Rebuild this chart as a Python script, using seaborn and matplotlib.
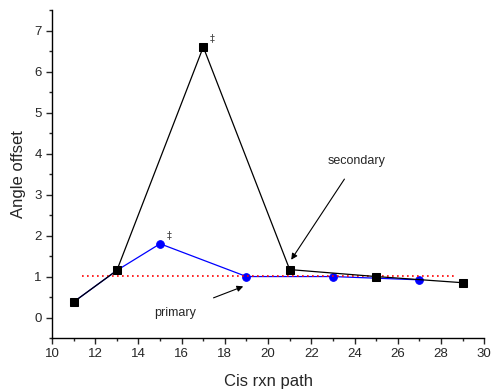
import pandas as pd
import seaborn as sns
import matplotlib.pyplot as plt
from matplotlib.ticker import MultipleLocator

# data
sec_x = [11, 13, 17, 21, 25, 29]
sec_y = [0.38, 1.15, 6.6, 1.17, 1.0, 0.85]
pri_x = [11, 13, 15, 19, 23, 27]
pri_y = [0.38, 1.15, 1.8, 1.0, 1.0, 0.92]
ref_x = [11.4, 28.6]
ref_y = [1.02, 1.02]

sns.set_style("ticks")
plt.rcParams['font.family'] = ['Liberation Sans', 'DejaVu Sans']

fig = plt.figure(figsize=(4.91, 3.89), dpi=100)
ax = fig.add_axes([0.106, 0.131, 0.88, 0.843])

sns.lineplot(x=pri_x, y=pri_y, ax=ax, color="blue", marker="o", markersize=5.5,
             markeredgecolor="blue", linewidth=0.9, sort=False, zorder=2)
sns.lineplot(x=ref_x, y=ref_y, ax=ax, color="red", linestyle=(0, (1, 2)),
             linewidth=1.2, zorder=3)
sns.lineplot(x=sec_x, y=sec_y, ax=ax, color="black", marker="s", markersize=6,
             markeredgecolor="black", linewidth=0.9, sort=False, zorder=4)

ax.text(17.3, 6.75, "‡", fontsize=7, color="#444444", family=['DejaVu Sans'])
ax.text(15.3, 1.93, "‡", fontsize=7, color="#444444", family=['DejaVu Sans'])

ax.annotate("primary", xy=(18.85, 0.76), xytext=(15.7, 0.12),
            fontsize=9, ha="center", va="center",
            arrowprops=dict(arrowstyle="-|>", color="black", lw=0.8,
                            shrinkA=11, shrinkB=0, mutation_scale=9))
ax.annotate("secondary", xy=(21.07, 1.41), xytext=(24.1, 3.83),
            fontsize=9, ha="center", va="center",
            arrowprops=dict(arrowstyle="-|>", color="black", lw=0.8,
                            shrinkA=8, shrinkB=0, mutation_scale=9))

ax.set_xlim(10, 30)
ax.set_ylim(-0.5, 7.5)
ax.xaxis.set_major_locator(MultipleLocator(2))
ax.xaxis.set_minor_locator(MultipleLocator(1))
ax.yaxis.set_major_locator(MultipleLocator(1))
ax.yaxis.set_minor_locator(MultipleLocator(0.5))
ax.set_yticks(range(0, 8))
ax.tick_params(which="major", length=4, width=1, labelsize=9.5, direction="out")
ax.tick_params(which="minor", length=2.5, width=1, direction="out")
for s in ["top", "right"]:
    ax.spines[s].set_visible(False)
for s in ["left", "bottom"]:
    ax.spines[s].set_linewidth(1)
    ax.spines[s].set_color("black")

ax.set_xlabel("Cis rxn path", fontsize=12, labelpad=10)
ax.set_ylabel("Angle offset", fontsize=12, labelpad=6)

fig.savefig("out.png", dpi=100)
